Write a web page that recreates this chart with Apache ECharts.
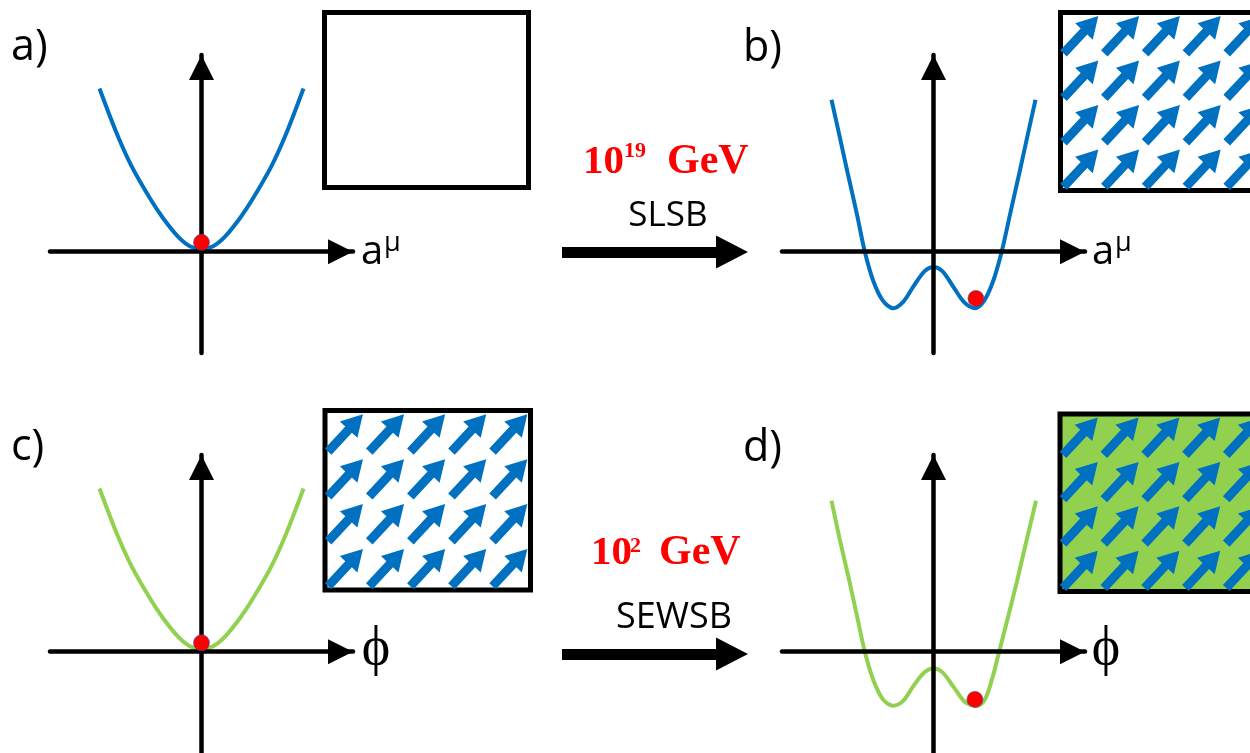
<!DOCTYPE html>
<html><head><meta charset="utf-8">
<script src="https://cdn.jsdelivr.net/npm/echarts@6/dist/echarts.min.js"></script>
<style>html,body{margin:0;padding:0;background:#fff}#c{width:1250px;height:753px}</style>
</head><body><div id="c"></div>
<script>
// ---- data (x, V(x)) ----
const potentialA = [[-2.02,3.32],[-1.68,2.41],[-1.38,1.73],[-1.0,1.05],[-0.76,0.68],[-0.46,0.3],[-0.23,0.11],[0,0.05],[0.23,0.11],[0.46,0.3],[0.76,0.68],[1.0,1.05],[1.38,1.73],[1.68,2.41],[2.02,3.32]];
const potentialB = [[-2.02,3.09],[-1.86,2.35],[-1.7,1.6],[-1.52,0.78],[-1.36,0],[-1.19,-0.6],[-1.0,-1.0],[-0.8,-1.15],[-0.6,-1.02],[-0.4,-0.71],[-0.18,-0.4],[0,-0.31],[0.18,-0.4],[0.39,-0.71],[0.6,-1.02],[0.82,-1.15],[1.0,-1.0],[1.18,-0.6],[1.35,0],[1.52,0.78],[1.7,1.6],[1.86,2.35],[2.02,3.09]];
const potentialC = [[-2.02,3.32],[-1.68,2.41],[-1.38,1.73],[-1.0,1.05],[-0.76,0.68],[-0.46,0.3],[-0.23,0.11],[0,0.05],[0.23,0.11],[0.46,0.3],[0.76,0.68],[1.0,1.05],[1.38,1.73],[1.68,2.41],[2.02,3.32]];
const potentialD = [[-2.02,3.07],[-1.86,2.3],[-1.68,1.5],[-1.52,0.75],[-1.36,0],[-1.19,-0.58],[-1.0,-0.97],[-0.8,-1.1],[-0.6,-1.0],[-0.4,-0.7],[-0.18,-0.42],[0,-0.34],[0.18,-0.42],[0.4,-0.72],[0.62,-1.02],[0.86,-1.11],[1.02,-0.97],[1.17,-0.52],[1.3,0],[1.47,0.68],[1.65,1.42],[1.84,2.25],[2.03,3.07]];
const ballA = [0, 0.19];
const ballB = [0.84, -0.95];
const ballC = [0, 0.18];
const ballD = [0.82, -0.97];
const fieldCols = [0.5, 1.5, 2.5, 3.5, 4.5];
const fieldRows = [0.5, 1.5, 2.5, 3.5];
const panelLabels = ['a)', 'b)', 'c)', 'd)'];
const energyTop = ['10', '19', 'GeV'];
const energyBottom = ['10', '2', 'GeV'];
const transitionTop = 'SLSB';
const transitionBottom = 'SEWSB';

const BLUE = '#0070c0', GREEN = '#92d050', RED = '#ff0000';

const fieldData = [];
fieldRows.forEach(r => fieldCols.forEach(c => fieldData.push([c, r])));

const chart = echarts.init(document.getElementById('c'), null, {renderer: 'canvas'});

const base = {outerBoundsMode: 'none', containLabel: false};
const panelGrids = [
  {left: 50, top: 55, width: 303, height: 298},
  {left: 782, top: 55, width: 303, height: 298},
  {left: 50, top: 455, width: 303, height: 298},
  {left: 782, top: 455, width: 303, height: 298}
];
const boxGrids = [
  {left: 324.5, top: 12.5, width: 204, height: 175, show: true, borderColor: '#000', borderWidth: 5, backgroundColor: '#fff'},
  {left: 1060.5, top: 12.5, width: 204, height: 178, show: true, borderColor: '#000', borderWidth: 5, backgroundColor: '#fff'},
  {left: 325, top: 410.5, width: 205.5, height: 179.5, show: true, borderColor: '#000', borderWidth: 5, backgroundColor: '#fff'},
  {left: 1060, top: 414, width: 204, height: 177.5, show: true, borderColor: '#000', borderWidth: 5, backgroundColor: GREEN}
];
const arrowGrids = [
  {left: 562, top: 240, width: 168, height: 12},
  {left: 562, top: 642, width: 168, height: 12}
];
const grids = panelGrids.concat(boxGrids, arrowGrids).map(g => Object.assign({}, base, g));

const xAxes = [], yAxes = [];
const potAxisLine = {show: true, onZero: true, symbol: ['none', 'triangle'], symbolSize: [25, 25], symbolOffset: [0, -12.5], lineStyle: {color: '#000', width: 4.5}};
for (let i = 0; i < 4; i++) {
  xAxes.push({gridIndex: i, type: 'value', min: -3, max: 3, z: 3, axisLine: potAxisLine, axisTick: {show: false}, axisLabel: {show: false}, splitLine: {show: false}});
  yAxes.push({gridIndex: i, type: 'value', min: -2.06, max: 4, z: 3, axisLine: potAxisLine, axisTick: {show: false}, axisLabel: {show: false}, splitLine: {show: false}});
}
for (let i = 4; i < 8; i++) {
  xAxes.push({gridIndex: i, type: 'value', min: 0, max: 5, show: false});
  yAxes.push({gridIndex: i, type: 'value', min: 0, max: 4, show: false});
}
for (let i = 8; i < 10; i++) {
  xAxes.push({gridIndex: i, type: 'value', min: 0, max: 1, position: 'bottom', axisLine: {show: true, onZero: false, symbol: ['none', 'triangle'], symbolSize: [33, 32], symbolOffset: [0, 2], lineStyle: {color: '#000', width: 11, cap: 'butt'}}, axisTick: {show: false}, axisLabel: {show: false}, splitLine: {show: false}});
  yAxes.push({gridIndex: i, type: 'value', min: 0, max: 1, show: false});
}

const potentials = [potentialA, potentialB, potentialC, potentialD];
const balls = [ballA, ballB, ballC, ballD];
const curveColors = [BLUE, BLUE, GREEN, GREEN];
const series = [];
potentials.forEach((p, i) => {
  series.push({type: 'line', xAxisIndex: i, yAxisIndex: i, data: p, smooth: 0.3, symbol: 'none', z: 2, lineStyle: {color: curveColors[i], width: 4}, silent: true});
  series.push({type: 'scatter', xAxisIndex: i, yAxisIndex: i, data: [balls[i]], symbolSize: 16, z: 5, itemStyle: {color: RED, opacity: 1, borderColor: 'rgba(70,70,170,0.6)', borderWidth: 1}, silent: true});
});
const arrowPath = 'path://M0,7.5 L30,7.5 L30,0 L51,12 L30,24 L30,16.5 L0,16.5 Z';
[5, 6, 7].forEach(gi => {
  series.push({type: 'scatter', xAxisIndex: gi, yAxisIndex: gi, data: fieldData, symbol: arrowPath, symbolSize: [51, 24], symbolRotate: 47, itemStyle: {color: BLUE, opacity: 1}, silent: true, z: 3});
});
[8, 9].forEach(gi => series.push({type: 'line', xAxisIndex: gi, yAxisIndex: gi, data: []}));

const sans = '"Open Sans", "Noto Sans", sans-serif';
const serif = '"Liberation Serif", "DejaVu Serif", serif';
function txt(x, y, text, font, fill, align) {
  return {type: 'text', x: x, y: y, silent: true, z: 10, style: {text: text, font: font, fill: fill || '#000', align: align || 'left', verticalAlign: 'middle'}};
}
const graphic = [
  txt(11, 48, panelLabels[0], '43px ' + sans),
  txt(743, 49, panelLabels[1], '43px ' + sans),
  txt(11, 448, panelLabels[2], '43px ' + sans),
  txt(743, 449, panelLabels[3], '43px ' + sans),
  txt(361, 253, 'a', '40px ' + sans),
  txt(384, 243, 'μ', '27px ' + sans),
  txt(1092, 253, 'a', '40px ' + sans),
  txt(1115, 243, 'μ', '27px ' + sans),
  txt(376, 650, 'ϕ', '54px ' + serif, '#000', 'center'),
  txt(1106, 650, 'ϕ', '54px ' + serif, '#000', 'center'),
  txt(583, 162, energyTop[0], 'bold 41px ' + serif, RED),
  txt(624, 151, energyTop[1], 'bold 22px ' + serif, RED),
  txt(667, 162, energyTop[2], 'bold 42px ' + serif, RED),
  txt(591, 553, energyBottom[0], 'bold 41px ' + serif, RED),
  txt(630, 546, energyBottom[1], 'bold 22px ' + serif, RED),
  txt(659, 553, energyBottom[2], 'bold 42px ' + serif, RED),
  txt(668, 216, transitionTop, '35px ' + sans, '#000', 'center'),
  txt(674, 618, transitionBottom, '36px ' + sans, '#000', 'center')
];

chart.setOption({
  animation: false,
  backgroundColor: '#fff',
  grid: grids,
  xAxis: xAxes,
  yAxis: yAxes,
  series: series,
  graphic: graphic
});
</script></body></html>
